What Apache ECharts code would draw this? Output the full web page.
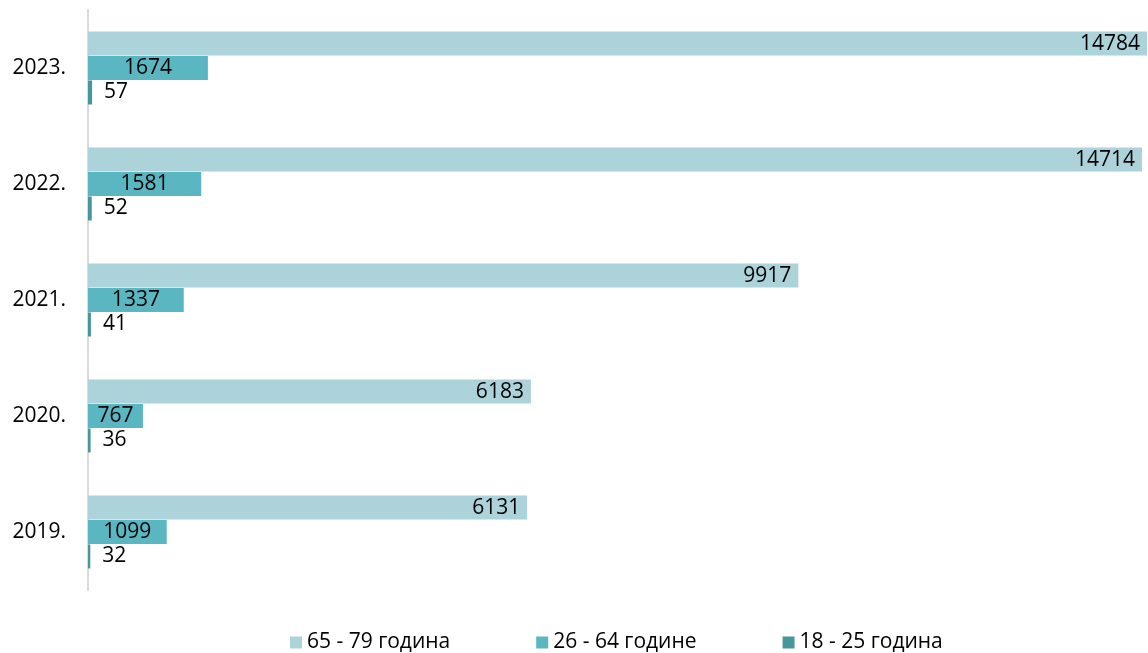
<!DOCTYPE html>
<html>
<head>
<meta charset="utf-8">
<script src="https://cdn.jsdelivr.net/npm/echarts@6/dist/echarts.min.js"></script>
<style>
    html, body { margin: 0; padding: 0; background: #fff; }
    #chart { width: 1148px; height: 653px; }
</style>
</head>
<body>
<div id="chart"></div>
<script>
const years = ['2019.', '2020.', '2021.', '2022.', '2023.']
const age65to79 = [6131, 6183, 9917, 14714, 14784]
const age26to64 = [1099, 767, 1337, 1581, 1674]
const age18to25 = [32, 36, 41, 52, 57]

const fontFamily = 'Open Sans, Noto Sans, sans-serif'

let chart = echarts.init(document.getElementById('chart'))

function barSeries(name, data, color, labelPos, distance) {
    return {
        name: name,
        type: 'bar',
        data: data,
        barWidth: 24,
        barGap: '2%',
        itemStyle: { color: color },
        label: {
            show: true,
            position: labelPos,
            color: '#000',
            fontSize: 21,
            fontFamily: fontFamily,
            distance: distance,
        },
    }
}

chart.setOption({
    animation: false,
    grid: {
        left: 88,
        right: 1,
        top: 10,
        height: 580,
    },
    legend: {
        top: 627,
        left: 285,
        itemWidth: 12,
        itemHeight: 12,
        itemGap: 86,
        icon: 'rect',
        textStyle: { fontSize: 21, fontFamily: fontFamily, color: '#000' },
        data: ['65 - 79 година', '26 - 64 године', '18 - 25 година'],
    },
    xAxis: {
        type: 'value',
        min: 0,
        max: 14784,
        show: false,
    },
    yAxis: {
        type: 'category',
        data: years,
        axisLine: { lineStyle: { color: '#d9d9d9', width: 2 } },
        axisTick: { show: false },
        axisLabel: { fontSize: 21, fontFamily: fontFamily, color: '#000', margin: 22 },
    },
    series: [
        barSeries('65 - 79 година', age65to79, '#abd3d9', 'insideRight', 7),
        barSeries('26 - 64 године', age26to64, '#5ab7c1', 'inside', 5),
        barSeries('18 - 25 година', age18to25, '#45979c', 'right', 12),
    ],
})
</script>
</body>
</html>
